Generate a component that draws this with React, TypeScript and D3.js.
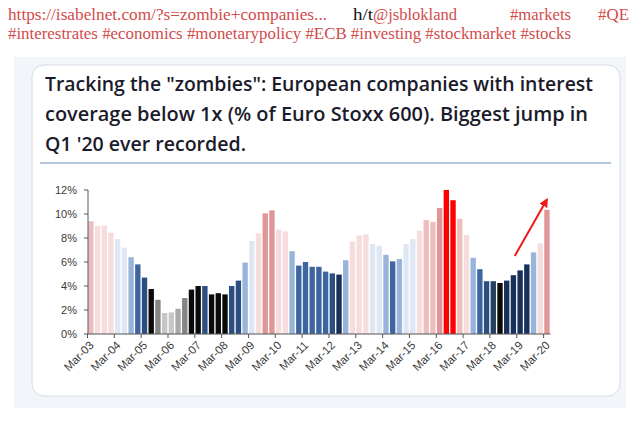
import React from "react";
import * as d3 from "d3";

const values = [
  9.4, 9.0, 9.05, 8.45, 7.9, 7.2, 6.4, 5.8, 4.7, 3.75, 2.85, 1.75, 1.8, 2.1, 3.0, 3.7,
  4.0, 4.0, 3.3, 3.4, 3.3, 4.0, 4.45, 5.95, 7.75, 8.4, 10.05, 10.3, 8.7, 8.55, 6.9, 5.7,
  6.0, 5.6, 5.6, 5.2, 5.05, 4.95, 6.15, 7.7, 8.2, 8.3, 7.5, 7.35, 6.6, 6.05, 6.25, 7.5,
  7.9, 8.6, 9.5, 9.35, 10.5, 12.0, 11.15, 9.6, 8.25, 6.35, 5.4, 4.4, 4.4, 4.25, 4.45, 4.9,
  5.3, 5.8, 6.8, 7.55, 10.35,
];

// colour tier of each bar (index into palette)
const tiers = [
  2, 3, 3, 3, 4, 4, 5, 6, 7, 9, 10, 11, 11, 12, 10, 9,
  9, 7, 9, 9, 9, 7, 7, 5, 4, 3, 1, 1, 3, 3, 5, 6,
  6, 6, 6, 6, 7, 8, 5, 3, 3, 3, 4, 4, 5, 6, 5, 4,
  4, 3, 2, 2, 1, 0, 0, 2, 3, 5, 6, 7, 13, 9, 8, 8,
  8, 8, 5, 3, 1,
];

const palette = [
  "#ff0000", "#e09696", "#eebebe", "#f6dcdc", "#dee7f3", "#98b4d9", "#3d66a1",
  "#2c4e80", "#17315a", "#0a0a0a", "#858585", "#c6c6c6", "#a9a9a9", "#26405f",
];

const tickLabels = [
  "Mar-03", "Mar-04", "Mar-05", "Mar-06", "Mar-07", "Mar-08", "Mar-09", "Mar-10", "Mar-11",
  "Mar-12", "Mar-13", "Mar-14", "Mar-15", "Mar-16", "Mar-17", "Mar-18", "Mar-19", "Mar-20",
];

const yTicks = [0, 2, 4, 6, 8, 10, 12];

// arrow annotation in data units: [bar position, %]
const arrowFrom = [63.7, 6.5];
const arrowTo = [68.5, 11.2];

const titleLines = [
  "Tracking the \"zombies\": European companies with interest",
  "coverage below 1x (% of Euro Stoxx 600). Biggest jump in",
  "Q1 '20 ever recorded.",
];

export default function App() {
  const x = d3
    .scaleBand<number>()
    .domain(d3.range(values.length))
    .range([87.5, 550.3])
    .paddingInner(0.2)
    .paddingOuter(0.1);
  const step = x.step();
  const y = d3.scaleLinear().domain([0, 12]).range([334, 190]);
  const pos = d3.scaleLinear().domain([0, values.length]).range([87.5, 550.3]);

  const red = "#d24b4b";
  const serif = "'Liberation Serif', 'Times New Roman', serif";
  const sans = "'Liberation Sans', Arial, sans-serif";

  const ax1 = pos(arrowFrom[0]);
  const ay1 = y(arrowFrom[1]);
  const ax2 = pos(arrowTo[0]);
  const ay2 = y(arrowTo[1]);

  return (
    <svg
      width={641}
      height={423}
      style={{ position: "absolute", left: 0, top: 0, background: "#fff" }}
    >
      <defs>
        <marker id="ah" viewBox="0 0 10 10" refX="8" refY="5" markerWidth="4.5" markerHeight="4.5" orient="auto">
          <path d="M0,0 L10,5 L0,10 z" fill="#f01818" />
        </marker>
      </defs>
      <rect width={641} height={423} fill="#fff" />
      {/* header */}
      <g fontFamily={serif} fontSize={16}>
        <text x={8} y={20} fill={red} textLength={319} lengthAdjust="spacingAndGlyphs">
          https://isabelnet.com/?s=zombie+companies...
        </text>
        <text x={353} y={20} fill="#111" textLength={20} lengthAdjust="spacingAndGlyphs">
          h/t
        </text>
        <text x={373} y={20} fill={red} textLength={84} lengthAdjust="spacingAndGlyphs">
          @jsblokland
        </text>
        <text x={510} y={20} fill={red} textLength={61} lengthAdjust="spacingAndGlyphs">
          #markets
        </text>
        <text x={598} y={20} fill={red} textLength={31} lengthAdjust="spacingAndGlyphs">
          #QE
        </text>
        <text x={8} y={39} fill={red} textLength={563} lengthAdjust="spacingAndGlyphs">
          #interestrates #economics #monetarypolicy #ECB #investing #stockmarket #stocks
        </text>
      </g>
      {/* card */}
      <rect x={14} y={57} width={612} height={351} fill="#f2f5f9" />
      <rect x={32} y={65} width={588} height={331} rx={12} fill="#fff" stroke="#d5dbe3" />
      <g fontFamily="'Open Sans', 'Noto Sans', sans-serif" fontWeight={600} fontSize={19.5} fill="#1b1b2b">
        <text x={45} y={91} textLength={548} lengthAdjust="spacingAndGlyphs">{titleLines[0]}</text>
        <text x={45} y={121} textLength={543} lengthAdjust="spacingAndGlyphs">{titleLines[1]}</text>
        <text x={45} y={151} textLength={201} lengthAdjust="spacingAndGlyphs">{titleLines[2]}</text>
      </g>
      <line x1={40} x2={611} y1={163} y2={163} stroke="#9db3d1" strokeWidth={1.5} />

      {/* bars */}
      <g>
        {values.map((v, i) => (
          <rect
            key={i}
            x={x(i)}
            y={y(v)}
            width={x.bandwidth()}
            height={y(0) - y(v)}
            fill={palette[tiers[i]]}
          />
        ))}
      </g>

      {/* y axis */}
      <g fontFamily={sans} fontSize={11} fill="#3a3a3a">
        <line x1={88} x2={88} y1={y(12)} y2={y(0)} stroke="#555" />
        {yTicks.map((t) => (
          <g key={t}>
            <line x1={84} x2={88} y1={y(t)} y2={y(t)} stroke="#555" />
            <text x={77} y={y(t)} dy="0.36em" textAnchor="end">
              {t}%
            </text>
          </g>
        ))}
      </g>

      {/* x axis */}
      <g fontFamily={sans} fontSize={11.5} fill="#3a3a3a">
        <line x1={87.5} x2={550.5} y1={y(0)} y2={y(0)} stroke="#555" />
        {tickLabels.map((lab, k) => {
          const tx = (x(k * 4) as number) - step * 0.1;
          return (
            <g key={lab}>
              <line x1={tx} x2={tx} y1={y(0)} y2={y(0) + 4} stroke="#555" />
              <text
                transform={`translate(${tx + 4},${y(0) + 9}) rotate(-45)`}
                textAnchor="end"
                dy="0.36em"
              >
                {lab}
              </text>
            </g>
          );
        })}
      </g>

      {/* arrow */}
      <line x1={ax1} y1={ay1} x2={ax2} y2={ay2} stroke="#f01818" strokeWidth={2} markerEnd="url(#ah)" />
    </svg>
  );
}
